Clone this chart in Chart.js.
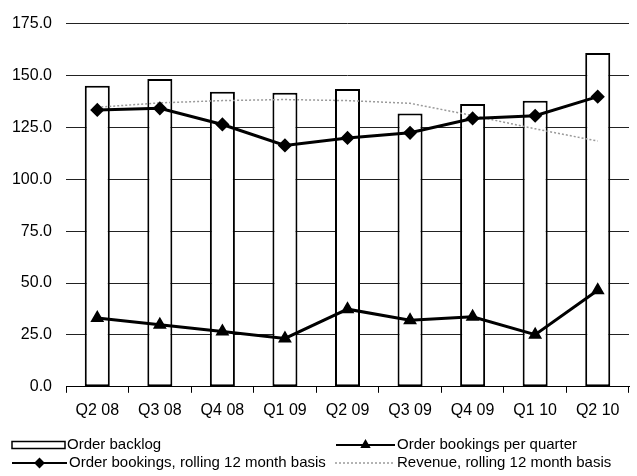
<!DOCTYPE html>
<html>
<head>
<meta charset="utf-8">
<script src="https://cdn.jsdelivr.net/npm/chart.js@4.4.1/dist/chart.umd.min.js"></script>
<style>
  html, body { margin: 0; padding: 0; background: #fff; }
  #wrap { width: 637px; height: 476px; }
</style>
</head>
<body>
<div id="wrap"><canvas id="myChart" width="637" height="476"></canvas></div>
<script>
// categories
var quarters = ['Q2 08', 'Q3 08', 'Q4 08', 'Q1 09', 'Q2 09', 'Q3 09', 'Q4 09', 'Q1 10', 'Q2 10']
// series values
var orderBacklog = [145.0, 148.3, 142.2, 141.7, 143.5, 131.7, 136.3, 137.8, 160.8]
var bookingsPerQuarter = [33.2, 29.9, 26.7, 23.3, 37.4, 32.1, 33.7, 25.1, 46.5]
var bookingsRolling = [133.4, 134.2, 126.4, 116.3, 119.9, 122.4, 129.3, 130.6, 139.8]
var revenueRolling = [134.7, 136.8, 137.9, 138.4, 137.9, 136.6, 130.7, 124.3, 118.4]
// axis
var yMin = 0
var yMax = 175
var yStep = 25

var FONT = '"Liberation Sans", Arial, sans-serif'

// where each legend entry sits (two columns, two rows)
var legendSlots = [
    { x: 12, y: 445, w: 53 },
    { x: 336, y: 445, w: 59 },
    { x: 12, y: 463, w: 55 },
    { x: 335, y: 463, w: 60 }
]

var legendPlugin = {
    id: 'gridLegend',
    afterDraw: function (chart) {
        var ctx = chart.ctx
        ctx.save()
        chart.data.datasets.forEach(function (ds, i) {
            var s = legendSlots[i]
            if (ds.type === 'bar') {
                ctx.fillStyle = '#fff'
                ctx.strokeStyle = '#000'
                ctx.lineWidth = 1.5
                ctx.fillRect(s.x, s.y - 3.5, s.w, 7)
                ctx.strokeRect(s.x, s.y - 3.5, s.w, 7)
            } else {
                ctx.strokeStyle = ds.borderColor
                ctx.lineWidth = Math.min(ds.borderWidth, 2)
                ctx.setLineDash(ds.borderDash || [])
                ctx.beginPath()
                ctx.moveTo(s.x, s.y)
                ctx.lineTo(s.x + s.w, s.y)
                ctx.stroke()
                ctx.setLineDash([])
                if (ds.pointRadius > 0) {
                    ctx.fillStyle = ds.pointBackgroundColor
                    ctx.strokeStyle = ds.pointBorderColor
                    Chart.helpers.drawPoint(ctx, {
                        pointStyle: ds.pointStyle,
                        rotation: 0,
                        radius: ds.pointRadius - 1,
                        borderWidth: 1
                    }, s.x + s.w / 2, s.y)
                }
            }
            ctx.fillStyle = '#000'
            ctx.font = '15px ' + FONT
            ctx.textBaseline = 'middle'
            ctx.textAlign = 'left'
            ctx.fillText(ds.label, s.x + s.w + 2, s.y)
        })
        ctx.restore()
    }
}

function buildGraph() {
    var ctx = document.getElementById('myChart').getContext('2d')
    var chart = new Chart(ctx, {
        data: {
            labels: quarters,
            datasets: [{
                type: 'bar',
                label: 'Order backlog',
                data: orderBacklog,
                backgroundColor: '#fff',
                borderColor: '#000',
                borderWidth: 2,
                borderSkipped: false,
                categoryPercentage: 1,
                barPercentage: 0.4,
                order: 4
            }, {
                type: 'line',
                label: 'Order bookings per quarter',
                data: bookingsPerQuarter,
                borderColor: '#000',
                borderWidth: 3,
                pointStyle: 'triangle',
                pointRadius: 5,
                pointBackgroundColor: '#000',
                pointBorderColor: '#000',
                tension: 0,
                order: 1
            }, {
                type: 'line',
                label: 'Order bookings, rolling 12 month basis',
                data: bookingsRolling,
                borderColor: '#000',
                borderWidth: 3,
                pointStyle: 'rectRot',
                pointRadius: 5,
                pointBackgroundColor: '#000',
                pointBorderColor: '#000',
                tension: 0,
                order: 2
            }, {
                type: 'line',
                label: 'Revenue, rolling 12 month basis',
                data: revenueRolling,
                borderColor: '#9a9a9a',
                borderWidth: 1.5,
                borderDash: [2, 2],
                pointRadius: 0,
                tension: 0,
                order: 3
            }]
        },
        options: {
            responsive: false,
            animation: false,
            devicePixelRatio: 1,
            layout: { padding: { top: 13, right: 0, bottom: 48, left: 0 } },
            plugins: {
                legend: { display: false },
                tooltip: { enabled: false }
            },
            scales: {
                x: {
                    offset: true,
                    grid: {
                        offset: true,
                        drawOnChartArea: false,
                        drawTicks: true,
                        tickLength: 6,
                        color: '#000'
                    },
                    border: { display: true, color: '#000', width: 1 },
                    ticks: {
                        color: '#000',
                        padding: 8,
                        maxRotation: 0,
                        font: { family: FONT, size: 16 }
                    }
                },
                y: {
                    min: yMin,
                    max: yMax,
                    afterFit: function (scale) { scale.width = 66 },
                    grid: { color: '#222', lineWidth: 1, drawTicks: false },
                    border: { display: false },
                    ticks: {
                        stepSize: yStep,
                        color: '#000',
                        padding: 14,
                        font: { family: FONT, size: 16 },
                        callback: function (v) { return v.toFixed(1) }
                    }
                }
            }
        },
        plugins: [legendPlugin]
    })
    return chart
}

buildGraph()
</script>
</body>
</html>
